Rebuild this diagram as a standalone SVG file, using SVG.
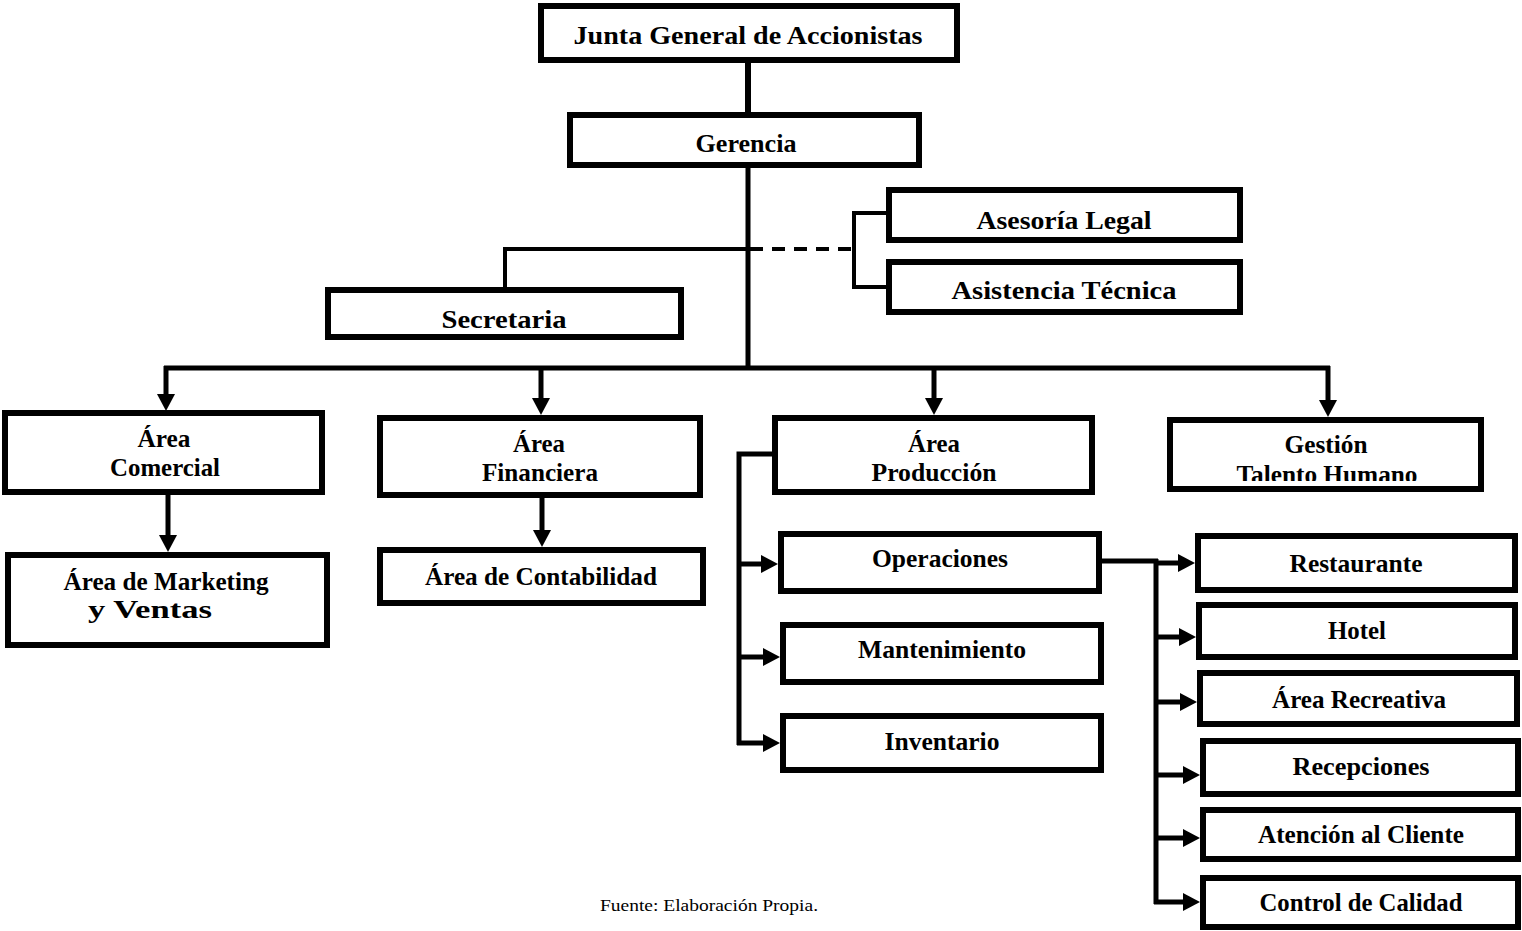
<svg xmlns="http://www.w3.org/2000/svg" width="1522" height="931" viewBox="0 0 1522 931">
  <style>
    .box { fill: #ffffff; stroke: #000000; stroke-width: 6; }
    .lbl { font-family: "Liberation Serif", "Times New Roman", serif; font-weight: bold; font-size: 25px; fill: #000000; text-anchor: middle; }
    .note { font-family: "Liberation Serif", "Times New Roman", serif; font-size: 16px; fill: #000000; text-anchor: middle; }
    .wire { fill: none; stroke: #000000; stroke-width: 5; }
    .thin { fill: none; stroke: #000000; stroke-width: 4; }
    .dash { fill: none; stroke: #000000; stroke-width: 4; stroke-dasharray: 13 9; }
    .arrow { fill: none; stroke: #000000; stroke-width: 5; marker-end: url(#head); }
  </style>
  <defs>
    <marker id="head" markerUnits="userSpaceOnUse" markerWidth="18" markerHeight="18" refX="0" refY="9" orient="auto">
      <path d="M0,0 L17,9 L0,18 Z" fill="#000000"/>
    </marker>
    <clipPath id="clipTalento">
      <rect x="1170" y="420" width="311" height="61"/>
    </clipPath>
  </defs>
  <rect width="1522" height="931" fill="#ffffff"/>

  <!-- connectors -->
  <g id="connectors">
    <line class="wire" x1="748" y1="62" x2="748" y2="113" style="stroke-width:6"/>
    <line class="wire" x1="748" y1="167" x2="748" y2="370"/>
    <polyline class="thin" points="748,249 505,249 505,288"/>
    <line class="dash" x1="750" y1="249" x2="854" y2="249"/>
    <polyline class="thin" points="887,213 854,213 854,287 887,287"/>
    <line class="wire" x1="164" y1="368" x2="1330" y2="368"/>
    <line class="arrow" x1="166" y1="366" x2="166" y2="394"/>
    <line class="arrow" x1="541" y1="366" x2="541" y2="398"/>
    <line class="arrow" x1="934" y1="366" x2="934" y2="398"/>
    <line class="arrow" x1="1328" y1="366" x2="1328" y2="400"/>
    <line class="arrow" x1="168" y1="495" x2="168" y2="535"/>
    <line class="arrow" x1="542" y1="498" x2="542" y2="530"/>
    <polyline class="wire" points="773,454 739,454 739,745"/>
    <line class="arrow" x1="737" y1="564" x2="761" y2="564"/>
    <line class="arrow" x1="737" y1="657" x2="763" y2="657"/>
    <line class="arrow" x1="737" y1="743" x2="763" y2="743"/>
    <line class="wire" x1="1101" y1="561" x2="1158" y2="561"/>
    <line class="wire" x1="1156" y1="559" x2="1156" y2="904"/>
    <line class="arrow" x1="1154" y1="563" x2="1178" y2="563"/>
    <line class="arrow" x1="1154" y1="637" x2="1179" y2="637"/>
    <line class="arrow" x1="1154" y1="702" x2="1180" y2="702"/>
    <line class="arrow" x1="1154" y1="775" x2="1183" y2="775"/>
    <line class="arrow" x1="1154" y1="838" x2="1183" y2="838"/>
    <line class="arrow" x1="1154" y1="902" x2="1183" y2="902"/>
  </g>

  <!-- nodes -->
  <g id="junta">
    <rect class="box" x="541" y="6" width="416" height="54"/>
    <text class="lbl" x="748" y="44" textLength="349" lengthAdjust="spacingAndGlyphs">Junta General de Accionistas</text>
  </g>
  <g id="gerencia">
    <rect class="box" x="570" y="115" width="349" height="50"/>
    <text class="lbl" x="746" y="152" textLength="101" lengthAdjust="spacingAndGlyphs">Gerencia</text>
  </g>
  <g id="secretaria">
    <rect class="box" x="328" y="290" width="353" height="47"/>
    <text class="lbl" x="504" y="328" textLength="125" lengthAdjust="spacingAndGlyphs">Secretaria</text>
  </g>
  <g id="asesoria-legal">
    <rect class="box" x="889" y="190" width="351" height="50"/>
    <text class="lbl" x="1064" y="229" textLength="175" lengthAdjust="spacingAndGlyphs">Asesoría Legal</text>
  </g>
  <g id="asistencia-tecnica">
    <rect class="box" x="889" y="262" width="351" height="50"/>
    <text class="lbl" x="1064" y="299" textLength="225" lengthAdjust="spacingAndGlyphs">Asistencia Técnica</text>
  </g>
  <g id="area-comercial">
    <rect class="box" x="5" y="413" width="317" height="79"/>
    <text class="lbl" x="164" y="447" textLength="53" lengthAdjust="spacingAndGlyphs">Área</text>
    <text class="lbl" x="165" y="476" textLength="110" lengthAdjust="spacingAndGlyphs">Comercial</text>
  </g>
  <g id="area-financiera">
    <rect class="box" x="380" y="418" width="320" height="77"/>
    <text class="lbl" x="539" y="452" textLength="52" lengthAdjust="spacingAndGlyphs">Área</text>
    <text class="lbl" x="540" y="481" textLength="116" lengthAdjust="spacingAndGlyphs">Financiera</text>
  </g>
  <g id="area-produccion">
    <rect class="box" x="775" y="418" width="317" height="74"/>
    <text class="lbl" x="934" y="452" textLength="52" lengthAdjust="spacingAndGlyphs">Área</text>
    <text class="lbl" x="934" y="481" textLength="125" lengthAdjust="spacingAndGlyphs">Producción</text>
  </g>
  <g id="gestion-talento-humano">
    <rect class="box" x="1170" y="420" width="311" height="69"/>
    <text class="lbl" x="1326" y="453" textLength="83" lengthAdjust="spacingAndGlyphs">Gestión</text>
    <text class="lbl" x="1327" y="483" textLength="181" lengthAdjust="spacingAndGlyphs" clip-path="url(#clipTalento)">Talento Humano</text>
  </g>
  <g id="area-marketing-ventas">
    <rect class="box" x="8" y="555" width="319" height="90"/>
    <text class="lbl" x="166" y="590" textLength="205" lengthAdjust="spacingAndGlyphs">Área de Marketing</text>
    <text class="lbl" x="150" y="618" textLength="124" lengthAdjust="spacingAndGlyphs">y Ventas</text>
  </g>
  <g id="area-contabilidad">
    <rect class="box" x="380" y="550" width="323" height="53"/>
    <text class="lbl" x="541" y="585" textLength="232" lengthAdjust="spacingAndGlyphs">Área de Contabilidad</text>
  </g>
  <g id="operaciones">
    <rect class="box" x="781" y="534" width="318" height="57"/>
    <text class="lbl" x="940" y="567" textLength="136" lengthAdjust="spacingAndGlyphs">Operaciones</text>
  </g>
  <g id="mantenimiento">
    <rect class="box" x="783" y="625" width="318" height="57"/>
    <text class="lbl" x="942" y="658" textLength="168" lengthAdjust="spacingAndGlyphs">Mantenimiento</text>
  </g>
  <g id="inventario">
    <rect class="box" x="783" y="716" width="318" height="54"/>
    <text class="lbl" x="942" y="750" textLength="115" lengthAdjust="spacingAndGlyphs">Inventario</text>
  </g>
  <g id="restaurante">
    <rect class="box" x="1198" y="536" width="317" height="54"/>
    <text class="lbl" x="1356" y="572" textLength="133" lengthAdjust="spacingAndGlyphs">Restaurante</text>
  </g>
  <g id="hotel">
    <rect class="box" x="1199" y="605" width="316" height="52"/>
    <text class="lbl" x="1357" y="639" textLength="58" lengthAdjust="spacingAndGlyphs">Hotel</text>
  </g>
  <g id="area-recreativa">
    <rect class="box" x="1200" y="673" width="317" height="51"/>
    <text class="lbl" x="1359" y="708" textLength="174" lengthAdjust="spacingAndGlyphs">Área Recreativa</text>
  </g>
  <g id="recepciones">
    <rect class="box" x="1203" y="741" width="315" height="53"/>
    <text class="lbl" x="1361" y="775" textLength="137" lengthAdjust="spacingAndGlyphs">Recepciones</text>
  </g>
  <g id="atencion-cliente">
    <rect class="box" x="1203" y="810" width="315" height="49"/>
    <text class="lbl" x="1361" y="843" textLength="206" lengthAdjust="spacingAndGlyphs">Atención al Cliente</text>
  </g>
  <g id="control-calidad">
    <rect class="box" x="1203" y="878" width="315" height="49"/>
    <text class="lbl" x="1361" y="911" textLength="203" lengthAdjust="spacingAndGlyphs">Control de Calidad</text>
  </g>

  <text class="note" x="709" y="911" textLength="218" lengthAdjust="spacingAndGlyphs">Fuente: Elaboración Propia.</text>
</svg>
